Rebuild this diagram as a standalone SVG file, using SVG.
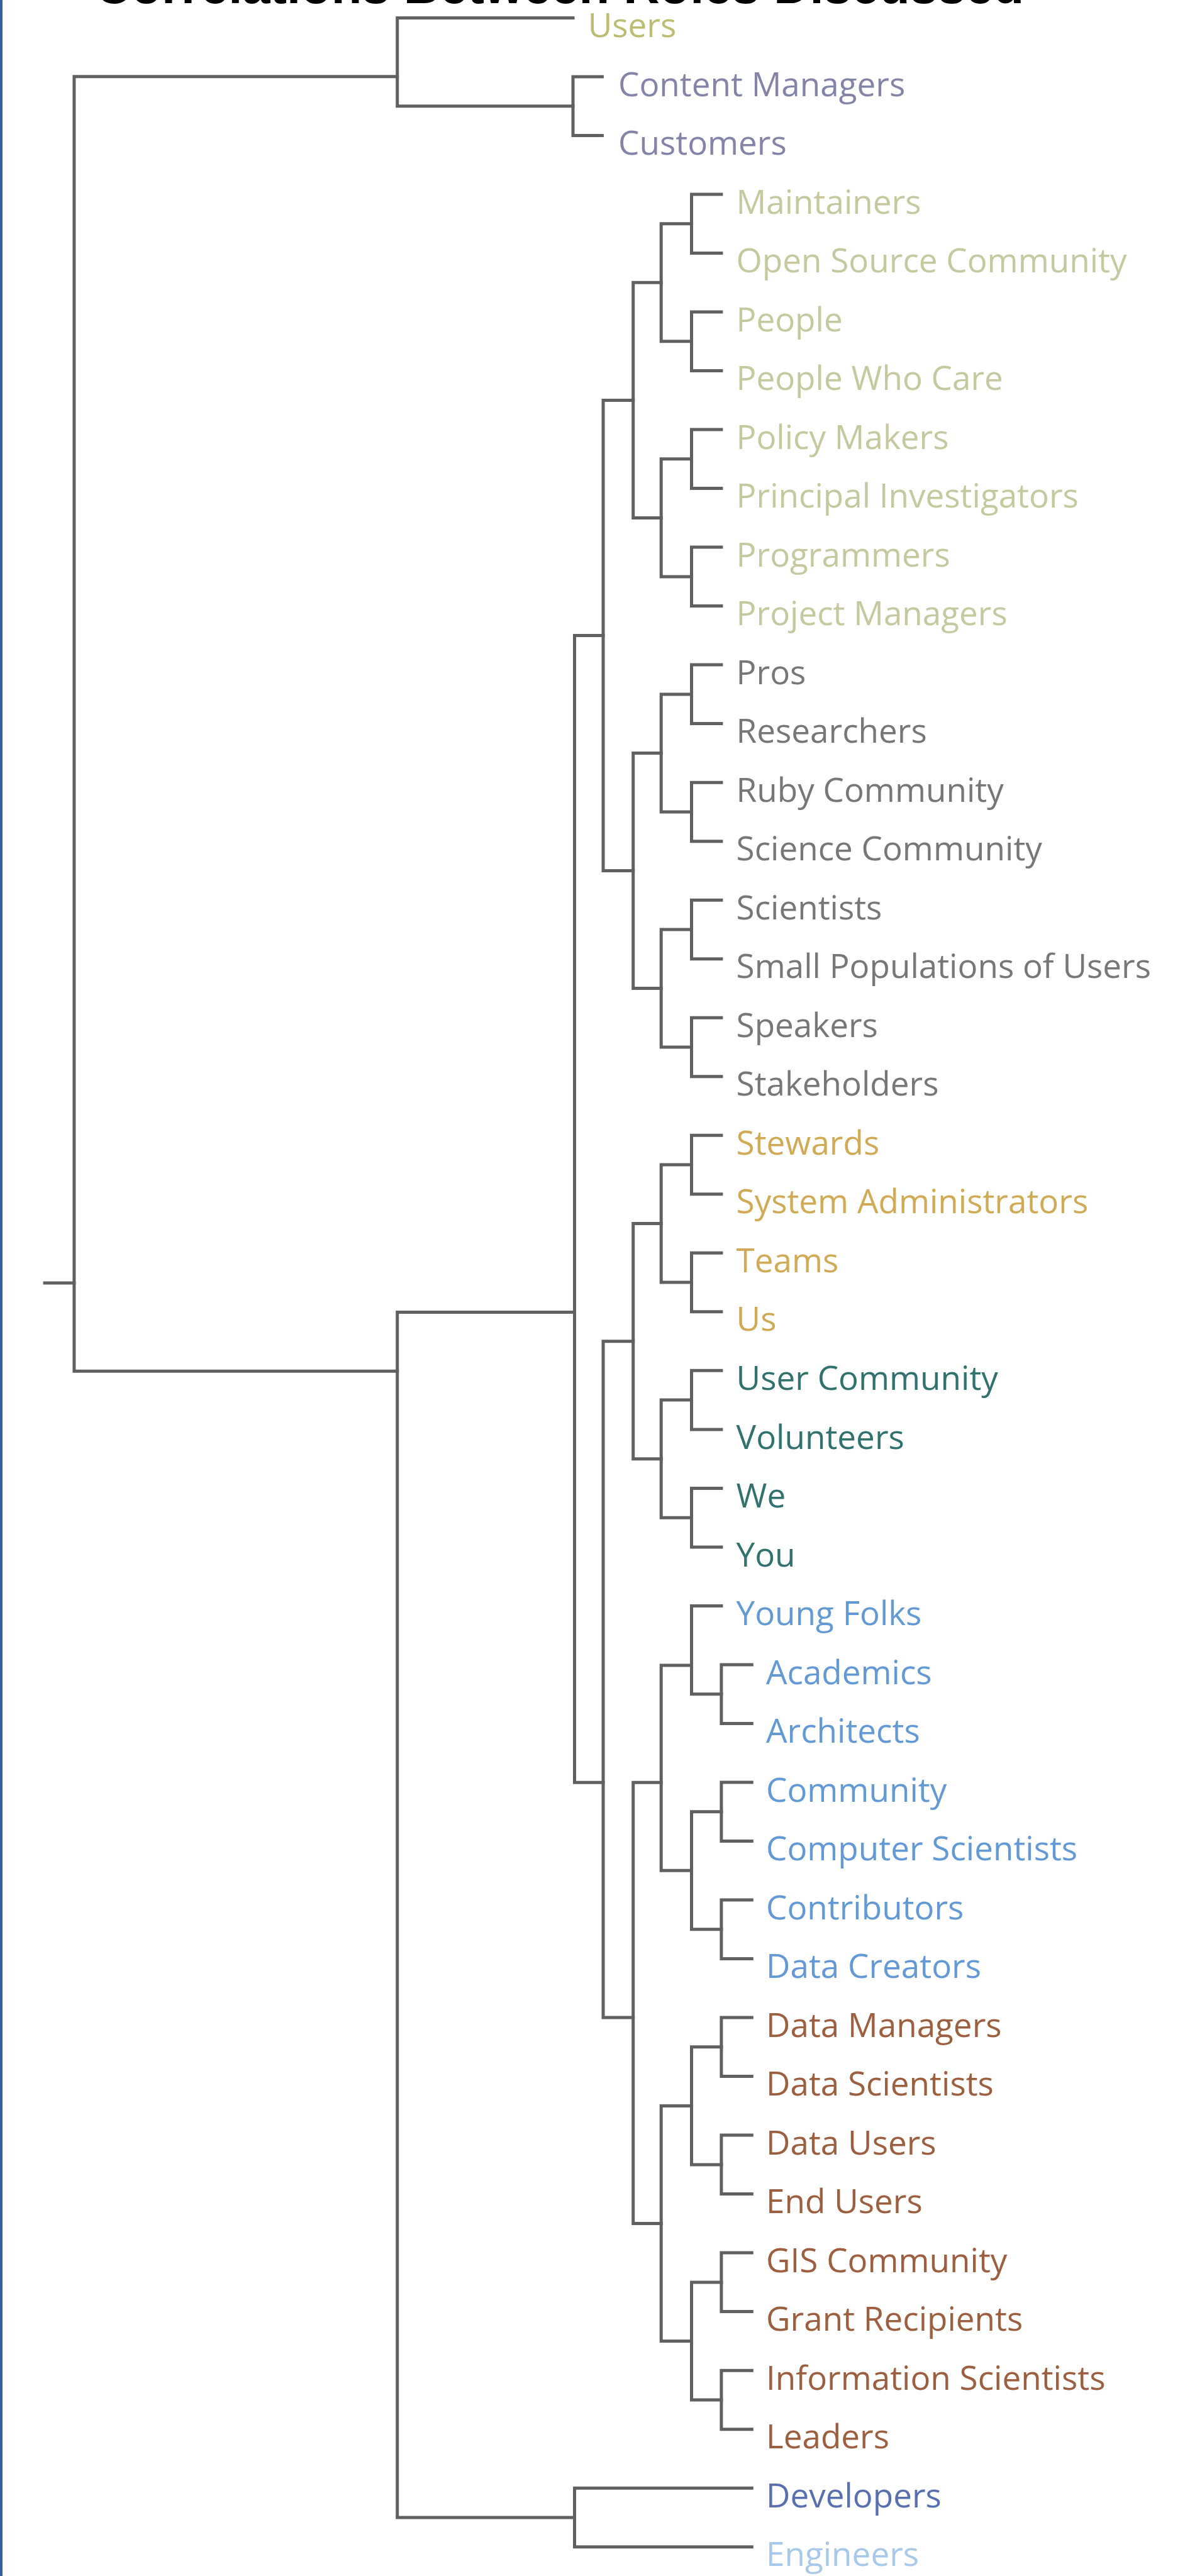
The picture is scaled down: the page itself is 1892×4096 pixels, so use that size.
<svg xmlns="http://www.w3.org/2000/svg" width="1892" height="4096" viewBox="0 0 1892 4096">
<style>
.ln{fill:none;stroke:#606060;stroke-width:5;stroke-linecap:square;stroke-linejoin:miter}
.t{font-family:"Open Sans","Noto Sans","Liberation Sans",sans-serif;font-size:53px}
.title{font-family:"Liberation Sans",Arial,sans-serif;font-weight:bold;font-size:80px;fill:#000}
.c0{fill:#bcbc72}
.c1{fill:#8484a8}
.c2{fill:#c6c89f}
.c3{fill:#777777}
.c4{fill:#d0aa55}
.c5{fill:#31726e}
.c6{fill:#6399d4}
.c7{fill:#9c5f40}
.c8{fill:#5870b0}
.c9{fill:#a9c9ea}
</style>
<rect x="0" y="0" width="1892" height="4096" fill="#ffffff"/>
<rect x="0" y="0" width="4" height="4096" fill="#34609b"/>
<text class="title" x="151" y="5" textLength="1477" lengthAdjust="spacingAndGlyphs">Correlations Between Roles Discussed</text>
<g id="connectors">
<path class="ln" d="M71.1 2040 H117.9"/>
<path class="ln" d="M631.7 121.7 H117.9 V2180.3 H631.7"/>
<path class="ln" d="M911 28.4 H631.7 V168.7 H911"/>
<path class="ln" d="M957.4 121.9 H911 V215.5 H957.4"/>
<path class="ln" d="M913.5 2086.5 H631.7 V4003 H913.5"/>
<path class="ln" d="M1195.3 3956.2 H913.5 V4049.7 H1195.3"/>
<path class="ln" d="M959 1010.5 H913.5 V2834.3 H959"/>
<path class="ln" d="M1006.7 636.4 H959 V1384.5 H1006.7"/>
<path class="ln" d="M1006.7 2132.7 H959 V3208 H1006.7"/>
<path class="ln" d="M1051.2 449.3 H1006.7 V823.4 H1051.2"/>
<path class="ln" d="M1099.5 355.8 H1051.2 V542.8 H1099.5"/>
<path class="ln" d="M1099.5 729.8 H1051.2 V916.9 H1099.5"/>
<path class="ln" d="M1146.9 309 H1099.5 V402.5 H1146.9"/>
<path class="ln" d="M1146.9 496 H1099.5 V589.5 H1146.9"/>
<path class="ln" d="M1146.9 683.1 H1099.5 V776.6 H1146.9"/>
<path class="ln" d="M1146.9 870.1 H1099.5 V963.6 H1146.9"/>
<path class="ln" d="M1051.2 1197.5 H1006.7 V1571.5 H1051.2"/>
<path class="ln" d="M1099.5 1103.9 H1051.2 V1291 H1099.5"/>
<path class="ln" d="M1099.5 1478 H1051.2 V1665 H1099.5"/>
<path class="ln" d="M1146.9 1057.1 H1099.5 V1150.6 H1146.9"/>
<path class="ln" d="M1146.9 1244.2 H1099.5 V1337.7 H1146.9"/>
<path class="ln" d="M1146.9 1431.2 H1099.5 V1524.7 H1146.9"/>
<path class="ln" d="M1146.9 1618.2 H1099.5 V1711.8 H1146.9"/>
<path class="ln" d="M1051.2 1945.6 H1006.7 V2319.7 H1051.2"/>
<path class="ln" d="M1099.5 1852.1 H1051.2 V2039.1 H1099.5"/>
<path class="ln" d="M1099.5 2226.1 H1051.2 V2413.2 H1099.5"/>
<path class="ln" d="M1146.9 1805.3 H1099.5 V1898.8 H1146.9"/>
<path class="ln" d="M1146.9 1992.3 H1099.5 V2085.8 H1146.9"/>
<path class="ln" d="M1146.9 2179.3 H1099.5 V2272.9 H1146.9"/>
<path class="ln" d="M1146.9 2366.4 H1099.5 V2459.9 H1146.9"/>
<path class="ln" d="M1051.2 2834.3 H1006.7 V3535.4 H1051.2"/>
<path class="ln" d="M1099.5 2648 H1051.2 V2974.3 H1099.5"/>
<path class="ln" d="M1146.9 2553.4 H1099.5 V2693.7 H1146.9"/>
<path class="ln" d="M1195.3 2646.9 H1146.9 V2740.5 H1195.3"/>
<path class="ln" d="M1146.9 2880.8 H1099.5 V3067.8 H1146.9"/>
<path class="ln" d="M1195.3 2834 H1146.9 V2927.5 H1195.3"/>
<path class="ln" d="M1195.3 3021 H1146.9 V3114.5 H1195.3"/>
<path class="ln" d="M1099.5 3348.4 H1051.2 V3722.4 H1099.5"/>
<path class="ln" d="M1146.9 3254.8 H1099.5 V3441.9 H1146.9"/>
<path class="ln" d="M1146.9 3628.9 H1099.5 V3815.9 H1146.9"/>
<path class="ln" d="M1195.3 3208 H1146.9 V3301.6 H1195.3"/>
<path class="ln" d="M1195.3 3395.1 H1146.9 V3488.6 H1195.3"/>
<path class="ln" d="M1195.3 3582.1 H1146.9 V3675.6 H1195.3"/>
<path class="ln" d="M1195.3 3769.2 H1146.9 V3862.7 H1195.3"/>
</g>
<g id="n-users"><text class="t c0" x="934.7" y="59">Users</text></g>
<g id="n-content-managers"><text class="t c1" x="983.1" y="152.5">Content Managers</text></g>
<g id="n-customers"><text class="t c1" x="983.1" y="246.1">Customers</text></g>
<g id="n-maintainers"><text class="t c2" x="1170.6" y="339.6">Maintainers</text></g>
<g id="n-open-source-community"><text class="t c2" x="1170.6" y="433.1">Open Source Community</text></g>
<g id="n-people"><text class="t c2" x="1170.6" y="526.6">People</text></g>
<g id="n-people-who-care"><text class="t c2" x="1170.6" y="620.1">People Who Care</text></g>
<g id="n-policy-makers"><text class="t c2" x="1170.6" y="713.7">Policy Makers</text></g>
<g id="n-principal-investigators"><text class="t c2" x="1170.6" y="807.2">Principal Investigators</text></g>
<g id="n-programmers"><text class="t c2" x="1170.6" y="900.7">Programmers</text></g>
<g id="n-project-managers"><text class="t c2" x="1170.6" y="994.2">Project Managers</text></g>
<g id="n-pros"><text class="t c3" x="1170.6" y="1087.7">Pros</text></g>
<g id="n-researchers"><text class="t c3" x="1170.6" y="1181.2">Researchers</text></g>
<g id="n-ruby-community"><text class="t c3" x="1170.6" y="1274.8">Ruby Community</text></g>
<g id="n-science-community"><text class="t c3" x="1170.6" y="1368.3">Science Community</text></g>
<g id="n-scientists"><text class="t c3" x="1170.6" y="1461.8">Scientists</text></g>
<g id="n-small-populations"><text class="t c3" x="1170.6" y="1555.3">Small Populations of Users</text></g>
<g id="n-speakers"><text class="t c3" x="1170.6" y="1648.8">Speakers</text></g>
<g id="n-stakeholders"><text class="t c3" x="1170.6" y="1742.4">Stakeholders</text></g>
<g id="n-stewards"><text class="t c4" x="1170.6" y="1835.9">Stewards</text></g>
<g id="n-system-administrators"><text class="t c4" x="1170.6" y="1929.4">System Administrators</text></g>
<g id="n-teams"><text class="t c4" x="1170.6" y="2022.9">Teams</text></g>
<g id="n-us"><text class="t c4" x="1170.6" y="2116.4">Us</text></g>
<g id="n-user-community"><text class="t c5" x="1170.6" y="2209.9">User Community</text></g>
<g id="n-volunteers"><text class="t c5" x="1170.6" y="2303.5">Volunteers</text></g>
<g id="n-we"><text class="t c5" x="1170.6" y="2397">We</text></g>
<g id="n-you"><text class="t c5" x="1170.6" y="2490.5">You</text></g>
<g id="n-young-folks"><text class="t c6" x="1170.6" y="2584">Young Folks</text></g>
<g id="n-academics"><text class="t c6" x="1218" y="2677.5">Academics</text></g>
<g id="n-architects"><text class="t c6" x="1218" y="2771.1">Architects</text></g>
<g id="n-community"><text class="t c6" x="1218" y="2864.6">Community</text></g>
<g id="n-computer-scientists"><text class="t c6" x="1218" y="2958.1">Computer Scientists</text></g>
<g id="n-contributors"><text class="t c6" x="1218" y="3051.6">Contributors</text></g>
<g id="n-data-creators"><text class="t c6" x="1218" y="3145.1">Data Creators</text></g>
<g id="n-data-managers"><text class="t c7" x="1218" y="3238.6">Data Managers</text></g>
<g id="n-data-scientists"><text class="t c7" x="1218" y="3332.2">Data Scientists</text></g>
<g id="n-data-users"><text class="t c7" x="1218" y="3425.7">Data Users</text></g>
<g id="n-end-users"><text class="t c7" x="1218" y="3519.2">End Users</text></g>
<g id="n-gis-community"><text class="t c7" x="1218" y="3612.7">GIS Community</text></g>
<g id="n-grant-recipients"><text class="t c7" x="1218" y="3706.2">Grant Recipients</text></g>
<g id="n-information-scientists"><text class="t c7" x="1218" y="3799.8">Information Scientists</text></g>
<g id="n-leaders"><text class="t c7" x="1218" y="3893.3">Leaders</text></g>
<g id="n-developers"><text class="t c8" x="1218" y="3986.8">Developers</text></g>
<g id="n-engineers"><text class="t c9" x="1218" y="4080.3">Engineers</text></g>
</svg>
